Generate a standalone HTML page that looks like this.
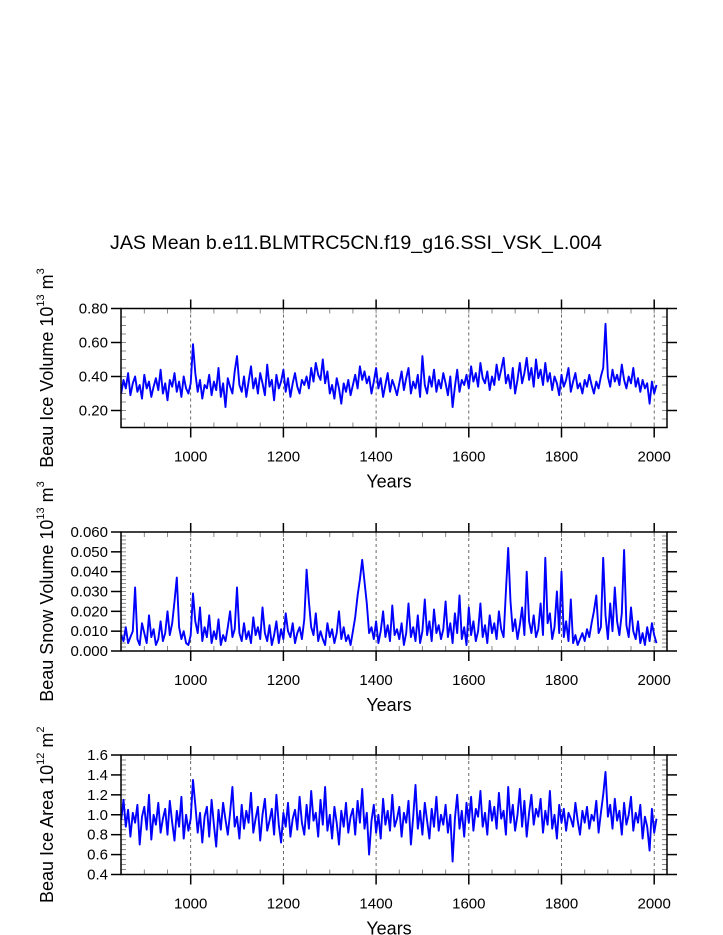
<!DOCTYPE html>
<html><head><meta charset="utf-8">
<style>
html,body{margin:0;padding:0;background:#fff;}
svg{display:block;font-family:"Liberation Sans",Arial,sans-serif;}
</style></head>
<body>
<svg id="chart" width="723" height="935" viewBox="0 0 723 935" xmlns="http://www.w3.org/2000/svg">
<text x="356" y="249" font-size="19.6" text-anchor="middle">JAS Mean b.e11.BLMTRC5CN.f19_g16.SSI_VSK_L.004</text>
</svg>
<script>
const startYear = 850, stepYears = 5;
const xTicks = [1000, 1200, 1400, 1600, 1800, 2000];
const iceVolume = [
0.30,0.38,0.33,0.42,0.29,0.36,0.40,0.31,0.35,0.27,0.41,0.33,0.37,0.28,0.34,0.39,0.32,0.44,0.30,0.36,
0.26,0.38,0.34,0.42,0.31,0.37,0.28,0.40,0.33,0.30,0.36,0.59,0.42,0.31,0.38,0.27,0.35,0.33,0.41,0.29,
0.37,0.32,0.45,0.28,0.36,0.22,0.39,0.34,0.30,0.43,0.52,0.35,0.31,0.40,0.28,0.37,0.46,0.33,0.39,0.30,
0.42,0.36,0.29,0.47,0.34,0.38,0.26,0.41,0.33,0.37,0.44,0.31,0.39,0.28,0.36,0.42,0.34,0.30,0.38,0.35,
0.40,0.33,0.45,0.37,0.48,0.41,0.38,0.50,0.36,0.43,0.30,0.35,0.27,0.39,0.33,0.24,0.36,0.31,0.38,0.29,
0.35,0.41,0.33,0.46,0.38,0.43,0.36,0.40,0.30,0.37,0.45,0.33,0.39,0.28,0.35,0.42,0.31,0.38,0.34,0.29,
0.36,0.43,0.32,0.39,0.45,0.30,0.37,0.33,0.41,0.28,0.52,0.35,0.30,0.40,0.34,0.44,0.31,0.38,0.33,0.42,
0.36,0.29,0.40,0.22,0.34,0.44,0.31,0.38,0.35,0.41,0.33,0.46,0.37,0.42,0.34,0.48,0.39,0.36,0.43,0.32,
0.40,0.35,0.47,0.38,0.44,0.51,0.36,0.41,0.33,0.45,0.30,0.38,0.48,0.36,0.42,0.51,0.38,0.45,0.34,0.50,
0.39,0.44,0.35,0.48,0.37,0.42,0.32,0.40,0.36,0.29,0.41,0.34,0.38,0.45,0.31,0.37,0.42,0.33,0.36,0.30,
0.38,0.34,0.41,0.35,0.30,0.37,0.33,0.40,0.45,0.71,0.40,0.34,0.44,0.37,0.41,0.35,0.47,0.38,0.33,0.40,
0.36,0.45,0.34,0.39,0.31,0.38,0.33,0.36,0.24,0.37,0.30,0.35];
const snowVolume = [
0.008,0.005,0.012,0.004,0.007,0.010,0.032,0.006,0.003,0.014,0.009,0.004,0.018,0.007,0.011,0.003,0.006,0.015,0.005,0.009,
0.020,0.008,0.014,0.025,0.037,0.012,0.006,0.010,0.004,0.003,0.008,0.029,0.015,0.009,0.022,0.005,0.012,0.007,0.018,0.004,
0.010,0.006,0.016,0.003,0.008,0.005,0.012,0.020,0.007,0.011,0.032,0.009,0.005,0.014,0.006,0.010,0.004,0.017,0.008,0.012,
0.006,0.022,0.009,0.005,0.013,0.003,0.008,0.015,0.004,0.011,0.006,0.019,0.010,0.007,0.014,0.004,0.009,0.012,0.006,0.016,
0.041,0.025,0.012,0.008,0.019,0.005,0.010,0.006,0.003,0.014,0.007,0.011,0.004,0.009,0.020,0.006,0.012,0.005,0.008,0.003,
0.010,0.017,0.028,0.036,0.046,0.035,0.024,0.009,0.012,0.006,0.015,0.004,0.010,0.020,0.007,0.013,0.005,0.023,0.008,0.011,
0.006,0.014,0.003,0.009,0.024,0.007,0.012,0.005,0.018,0.004,0.010,0.026,0.008,0.015,0.005,0.021,0.009,0.013,0.006,0.011,
0.025,0.007,0.014,0.004,0.019,0.009,0.028,0.006,0.012,0.003,0.022,0.008,0.015,0.005,0.010,0.024,0.007,0.013,0.004,0.018,
0.009,0.014,0.006,0.020,0.011,0.007,0.030,0.052,0.025,0.010,0.016,0.006,0.013,0.022,0.008,0.040,0.015,0.009,0.018,0.007,
0.011,0.024,0.008,0.047,0.014,0.019,0.006,0.012,0.030,0.009,0.040,0.007,0.015,0.005,0.026,0.004,0.008,0.003,0.006,0.009,
0.005,0.011,0.007,0.014,0.020,0.028,0.009,0.012,0.047,0.018,0.006,0.024,0.010,0.032,0.015,0.008,0.019,0.051,0.013,0.007,
0.022,0.010,0.006,0.015,0.004,0.009,0.003,0.012,0.005,0.014,0.008,0.004];
const iceArea = [
0.95,1.15,0.88,1.05,0.78,1.02,0.92,1.10,0.70,0.98,1.08,0.85,1.20,0.75,1.00,0.90,1.12,0.82,0.96,1.06,
0.80,1.14,0.92,0.74,1.04,0.88,1.18,0.76,1.00,0.84,0.96,1.35,1.10,0.82,1.02,0.72,0.98,1.08,0.78,1.15,
0.90,0.68,1.05,0.85,1.12,0.95,0.80,1.02,1.28,0.88,0.98,0.76,1.10,0.86,1.04,0.92,1.22,0.82,0.96,1.08,
0.74,1.00,1.16,0.84,0.94,1.06,0.80,1.20,0.90,0.72,1.02,0.88,1.12,0.78,0.96,1.05,0.85,1.18,0.92,0.80,
1.10,0.86,1.24,0.94,1.02,0.78,1.15,0.90,1.28,0.84,1.00,0.76,1.08,0.92,0.70,1.04,0.88,1.12,0.82,0.98,
1.06,0.80,1.14,0.92,1.26,0.86,1.02,0.60,0.94,1.10,0.82,1.00,0.76,1.16,0.90,1.04,0.84,1.20,0.88,0.96,
1.08,0.78,1.02,0.92,1.14,0.70,0.98,1.30,0.86,1.04,0.80,1.12,0.94,0.76,1.06,0.88,1.18,0.84,1.00,0.90,
1.10,0.82,1.00,0.53,0.96,1.20,0.86,1.04,0.78,1.12,0.92,1.18,0.84,1.06,0.98,1.24,0.88,1.02,0.80,1.14,
0.94,1.08,0.86,1.22,0.96,1.04,0.80,1.28,0.92,1.10,0.84,1.00,1.26,0.88,1.14,0.78,1.02,1.20,0.90,1.06,
0.98,1.16,0.82,1.04,0.90,1.24,0.86,1.00,0.76,1.10,0.92,1.06,0.84,1.02,0.96,0.88,1.12,0.94,0.80,1.04,
0.92,1.08,0.86,1.00,0.94,1.14,0.82,1.02,1.20,1.43,0.98,1.10,0.86,1.16,0.94,1.04,0.80,1.12,0.90,1.00,
1.18,0.84,1.02,0.92,1.10,0.76,0.98,0.88,0.64,1.06,0.82,0.96];
const volTicks = [0.2, 0.4, 0.6, 0.8];
const snowTicks = [0, 0.01, 0.02, 0.03, 0.04, 0.05, 0.06];
const areaTicks = [0.4, 0.6, 0.8, 1.0, 1.2, 1.4, 1.6];

const NS = "http://www.w3.org/2000/svg";
const svg = document.getElementById("chart");
const L = 121, R = 667;
function xScale(yr){ return 190.7 + (yr - 1000) * 0.4635; }
function mk(tag, attrs, parent){
  const e = document.createElementNS(NS, tag);
  for (const k in attrs) e.setAttribute(k, attrs[k]);
  (parent || svg).appendChild(e);
  return e;
}
function panel(o){
  const g = mk("g", {});
  
  
  const yS = v => o.bot - (v - o.min) / (o.max - o.min) * (o.bot - o.top);
  xTicks.forEach(t => {
    const l = mk("line", {x1:xScale(t), x2:xScale(t), y1:o.top, y2:o.bot, stroke:"#444", "stroke-width":0.8, "stroke-dasharray":"3,3"}, g);
    
    
  });
  for (let yr = 850; yr <= 2025; yr += 50) {
    const x = xScale(yr);
    mk("line", {x1:x, x2:x, y1:o.top, y2:o.top+5, stroke:"#888", "stroke-width":1}, g);
    mk("line", {x1:x, x2:x, y1:o.bot, y2:o.bot-5, stroke:"#888", "stroke-width":1}, g);
  }
  for (let v = o.min; v <= o.max + 1e-9; v += o.minor) {
    const y = yS(v);
    mk("line", {x1:L, x2:L+5, y1:y, y2:y, stroke:"#888", "stroke-width":1}, g);
    mk("line", {x1:R, x2:R-5, y1:y, y2:y, stroke:"#888", "stroke-width":1}, g);
  }
  const pts = o.data.map((v, i) => xScale(startYear + i * stepYears).toFixed(1) + "," + yS(v).toFixed(1)).join(" ");
  const pl = mk("polyline", {points:pts, fill:"none", stroke:"#0000ff", "stroke-width":1.9, "stroke-linejoin":"round"}, g);
  
  
  mk("rect", {x:L, y:o.top, width:R-L, height:o.bot-o.top, fill:"none", stroke:"#000", "stroke-width":1.5}, g);
  xTicks.forEach(t => {
    const x = xScale(t);
    mk("line", {x1:x, x2:x, y1:o.top-9, y2:o.top, stroke:"#000", "stroke-width":1.5}, g);
    mk("line", {x1:x, x2:x, y1:o.bot, y2:o.bot+10, stroke:"#000", "stroke-width":1.5}, g);
    const tx = mk("text", {x:x, y:o.bot+34, "font-size":15, "text-anchor":"middle"}, g);
    tx.textContent = t;
    
    
  });
  o.ticks.forEach(v => {
    const y = yS(v);
    mk("line", {x1:L-10, x2:L, y1:y, y2:y, stroke:"#000", "stroke-width":1.5}, g);
    mk("line", {x1:R, x2:R+10, y1:y, y2:y, stroke:"#000", "stroke-width":1.5}, g);
    const tx = mk("text", {x:L-13, y:y+5, "font-size":15, "text-anchor":"end"}, g);
    tx.textContent = v.toFixed(o.dec);
    
    
  });
  const xt = mk("text", {x:389, y:o.bot+60, "font-size":18, "text-anchor":"middle"}, g);
  xt.textContent = "Years";
  
  
  const cy = (o.top + o.bot) / 2;
  const yt = mk("text", {x:0, y:0, "font-size":18, "text-anchor":"middle", transform:"translate(53," + cy + ") rotate(-90)"}, g);
  
  
  yt.innerHTML = o.label + ' 10<tspan font-size="11" dy="-9">' + o.exp + '</tspan><tspan dy="9"> m</tspan><tspan font-size="11" dy="-9">' + o.unitExp + '</tspan>';
}
panel({name:"ice-volume-panel", top:308.5, bot:427.5, min:0.1, max:0.8, minor:0.05, ticks:volTicks, dec:2, data:iceVolume, label:"Beau Ice Volume", exp:"13", unitExp:"3"});
panel({name:"snow-volume-panel", top:532, bot:651, min:0, max:0.06, minor:0.002, ticks:snowTicks, dec:3, data:snowVolume, label:"Beau Snow Volume", exp:"13", unitExp:"3"});
panel({name:"ice-area-panel", top:755, bot:874.5, min:0.4, max:1.6, minor:0.05, ticks:areaTicks, dec:1, data:iceArea, label:"Beau Ice Area", exp:"12", unitExp:"2"});
</script>
</body></html>
